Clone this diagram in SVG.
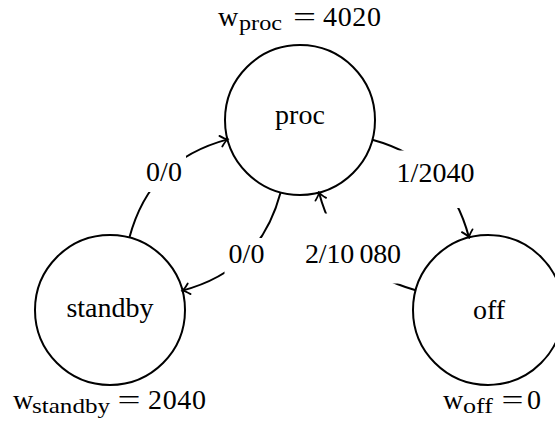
<svg xmlns="http://www.w3.org/2000/svg" width="555" height="423" viewBox="0 0 555 423">
<style>
.node{fill:none;stroke:#000;stroke-width:2}
.t{font-family:"Liberation Serif","Times New Roman",serif;font-size:28px;fill:#000}
.s{font-family:"Liberation Serif","Times New Roman",serif;font-size:22px;fill:#000}
.m{text-anchor:middle}
.edge{fill:none;stroke:#000;stroke-width:2;marker-end:url(#arr)}
.bg{fill:#fff;stroke:none}
</style>
<defs>
<marker id="arr" viewBox="-10 -7 12 14" markerWidth="12" markerHeight="14" refX="0" refY="0" orient="auto" markerUnits="userSpaceOnUse">
<path d="M-7,-5.5 Q-2.5,-1 0,0 Q-2.5,1 -7,5.5" fill="none" stroke="#000" stroke-width="1.8" stroke-linecap="round"/>
</marker>
</defs>
<rect width="555" height="423" fill="#fff"/>
<g id="connectors">
<g id="e-standby-proc">
<path class="edge" d="M129.4,237.6 C143.5,185.1 175.1,153.5 227.6,139.4"/>
<rect class="bg" x="142" y="156" width="44" height="36"/>
<text class="t m" x="164" y="181">0/0</text>
</g>
<g id="e-proc-standby">
<path class="edge" d="M280.6,192.4 C266.5,244.9 234.9,276.5 182.4,290.6"/>
<rect class="bg" x="224.5" y="238" width="44" height="36"/>
<text class="t m" x="246.5" y="263">0/0</text>
</g>
<g id="e-proc-off">
<path class="edge" d="M372.3,139.8 C424.2,154 455.3,185.5 469,237.5"/>
<rect class="bg" x="392.5" y="150.5" width="86" height="57.5"/>
<text class="t m" x="435.5" y="181.5">1/2040</text>
</g>
<g id="e-off-proc">
<path class="edge" d="M415.7,290.2 C363.8,276 332.65,244.5 319,192.5"/>
<rect class="bg" x="300.5" y="213.5" width="105" height="70"/>
<text class="t m" x="353" y="262.5" textLength="96">2/10&#8201;080</text>
</g>
</g>
<g id="proc">
<circle class="node" cx="300" cy="120" r="75"/>
<text class="t m" x="300" y="123.5">proc</text>
<text class="t" x="218" y="26">w</text>
<text class="s" x="239" y="29.5" textLength="43" lengthAdjust="spacingAndGlyphs">proc</text>
<text class="t m" x="304.5" y="26" textLength="23" lengthAdjust="spacingAndGlyphs">=</text>
<text class="t" x="323" y="26" textLength="58">4020</text>
</g>
<g id="standby">
<circle class="node" cx="110" cy="310" r="75"/>
<text class="t m" x="110" y="317">standby</text>
<text class="t" x="13" y="409">w</text>
<text class="s" x="32" y="412.5" textLength="78" lengthAdjust="spacingAndGlyphs">standby</text>
<text class="t m" x="129" y="409" textLength="23" lengthAdjust="spacingAndGlyphs">=</text>
<text class="t" x="148" y="409" textLength="58">2040</text>
</g>
<g id="off">
<circle class="node" cx="488" cy="310" r="75"/>
<text class="t m" x="489" y="319">off</text>
<text class="t" x="443" y="409">w</text>
<text class="s" x="463" y="412.5" textLength="30" lengthAdjust="spacingAndGlyphs">off</text>
<text class="t m" x="512.5" y="409" textLength="22" lengthAdjust="spacingAndGlyphs">=</text>
<text class="t" x="527" y="409">0</text>
</g>
</svg>
